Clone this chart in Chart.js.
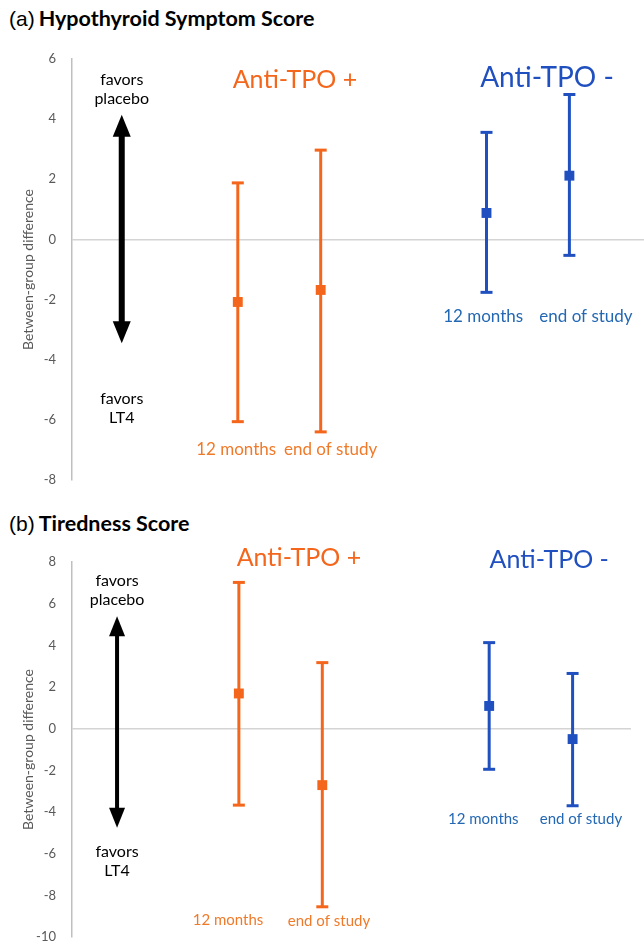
<!DOCTYPE html>
<html>
<head>
<meta charset="utf-8">
<script src="https://cdn.jsdelivr.net/npm/chart.js@4.4.0/dist/chart.umd.min.js"></script>
<style>
  body { margin: 0; background: #fff; width: 644px; height: 941px; overflow: hidden; position: relative; }
  .ttl { position: absolute; left: 9px; color: #000; white-space: nowrap; }
  .ttl .p { font-family: "Liberation Sans", Arial, sans-serif; font-size: 21px; }
  .ttl b { font-family: Lato, sans-serif; font-weight: bold; font-size: 21.5px; }
  #ca { position: absolute; left: 0; top: 0; }
  #cb { position: absolute; left: 0; top: 500px; }
</style>
</head>
<body>
<div class="ttl" style="top:5px"><span class="p">(a)</span> <b>Hypothyroid Symptom Score</b></div>
<div class="ttl" style="top:510px"><span class="p">(b)</span> <b>Tiredness Score</b></div>
<canvas id="ca" width="644" height="500"></canvas>
<canvas id="cb" width="644" height="441"></canvas>
<script>
// positions of the four estimates on the x axis
const catX = [2, 3, 5, 6];
const catNames = ['12 months', 'end of study', '12 months', 'end of study'];
const groupNames = ['Anti-TPO +', 'Anti-TPO -'];

// (a) hypothyroid symptom score
const hssMean = [-2.08, -1.68, 0.88, 2.12];
const hssLow = [-6.06, -6.40, -1.76, -0.53];
const hssHigh = [1.88, 2.97, 3.56, 4.82];
const hssTicks = [-8, -6, -4, -2, 0, 2, 4, 6];

// (b) tiredness score
const tirMean = [1.69, -2.71, 1.09, -0.50];
const tirLow = [-3.67, -8.55, -1.95, -3.70];
const tirHigh = [7.02, 3.17, 4.13, 2.65];
const tirTicks = [-10, -8, -6, -4, -2, 0, 2, 4, 6, 8];

const ORANGE = '#f4661b';
const BLUE = '#2050c0';
const ORANGE_TXT = '#f07a2a';
const BLUE_TXT = '#2468b4';
const seriesColors = [ORANGE, ORANGE, BLUE, BLUE];

const buildSets = (low, high, mean) => {
  let sets = [];
  sets.push({
    type: 'scatter',
    order: 0,
    data: catX.map((x, i) => ({x: x, y: mean[i]})),
    pointStyle: 'rect',
    pointRadius: 7,
    pointHoverRadius: 7,
    backgroundColor: seriesColors,
    borderWidth: 0
  });
  catX.forEach((x, i) => {
    sets.push({
      type: 'line',
      order: 1,
      data: [{x: x, y: low[i]}, {x: x, y: high[i]}],
      borderColor: seriesColors[i],
      borderWidth: 3,
      pointStyle: 'line',
      pointRadius: 6,
      pointHoverRadius: 6,
      pointBorderWidth: 3,
      pointBorderColor: seriesColors[i]
    });
  });
  return sets;
};

const drawArrow = (ctx, x, top, bottom, shaft, hw, hl) => {
  ctx.fillStyle = '#000';
  ctx.fillRect(x - shaft / 2, top + hl - 1, shaft, bottom - top - 2 * hl + 2);
  ctx.beginPath();
  ctx.moveTo(x, top);
  ctx.lineTo(x + hw, top + hl);
  ctx.lineTo(x - hw, top + hl);
  ctx.closePath();
  ctx.fill();
  ctx.beginPath();
  ctx.moveTo(x, bottom);
  ctx.lineTo(x + hw, bottom - hl);
  ctx.lineTo(x - hw, bottom - hl);
  ctx.closePath();
  ctx.fill();
};

// text labels and the favours arrow
const notes = {
  id: 'notes',
  afterDatasetsDraw(chart, args, o) {
    const ctx = chart.ctx;
    const xs = chart.scales.x, ys = chart.scales.y;
    ctx.save();
    ctx.textAlign = 'center';
    ctx.textBaseline = 'middle';

    groupNames.forEach((g, i) => {
      ctx.font = o.groupSize[i] + 'px Lato';
      ctx.fillStyle = i === 0 ? ORANGE : BLUE;
      ctx.fillText(g, xs.getPixelForValue(o.groupX[i]), ys.getPixelForValue(o.groupY[i]));
    });

    ctx.font = o.labelSize + 'px Lato';
    catNames.forEach((c, i) => {
      ctx.fillStyle = i < 2 ? ORANGE_TXT : BLUE_TXT;
      ctx.fillText(c, xs.getPixelForValue(o.labelX[i]), ys.getPixelForValue(o.labelY[i]));
    });

    const ax = xs.getPixelForValue(o.arrowX);
    const top = ys.getPixelForValue(o.arrow[0]);
    const bottom = ys.getPixelForValue(o.arrow[1]);
    drawArrow(ctx, ax, top, bottom, o.shaft, o.head[0], o.head[1]);

    ctx.fillStyle = '#000';
    ctx.font = '16px Lato';
    ctx.fillText('favors', ax, top - 35);
    ctx.fillText('placebo', ax, top - 16);
    ctx.fillText('favors', ax, bottom + o.below);
    ctx.fillText('LT4', ax, bottom + o.below + 19);
    ctx.restore();
  }
};

const makeChart = (id, sets, yMin, yMax, ticks, xMax, pad, note) => {
  return new Chart(document.getElementById(id), {
    data: {datasets: sets},
    plugins: [notes],
    options: {
      responsive: false,
      animation: false,
      devicePixelRatio: 1,
      events: [],
      layout: {padding: pad, autoPadding: false},
      plugins: {legend: {display: false}, tooltip: {enabled: false}, notes: note},
      scales: {
        x: {type: 'linear', min: 0, max: xMax, display: false},
        y: {
          type: 'linear',
          min: yMin,
          max: yMax,
          afterBuildTicks: (s) => { s.ticks = ticks.map(v => ({value: v})); },
          afterFit: (s) => { s.width = 72; s.paddingTop = 0; s.paddingBottom = 0; },
          ticks: {color: '#595959', font: {family: 'Lato', size: 13}, padding: 16},
          grid: {
            drawTicks: false,
            lineWidth: 1.5,
            color: (c) => (c.tick && c.tick.value === 0 ? '#d4d4d4' : 'rgba(0,0,0,0)')
          },
          border: {display: true, color: '#bfbfbf', width: 1.5},
          title: {
            display: true,
            text: 'Between-group difference',
            color: '#595959',
            font: {family: 'Lato', size: 14},
            padding: {top: 20, bottom: 0}
          }
        }
      }
    }
  });
};

makeChart('ca', buildSets(hssLow, hssHigh, hssMean), -8, 6, hssTicks, 6.9,
  {top: 59, bottom: 20, left: 0, right: 0},
  {groupX: [2.69, 5.73], groupY: [5.3, 5.37], groupSize: [25, 28], labelSize: 17,
   labelX: [1.98, 3.12, 4.96, 6.2], labelY: [-7.0, -7.0, -2.57, -2.57],
   arrowX: 0.6, arrow: [4.15, -3.45], shaft: 6, head: [9, 22], below: 56});

makeChart('cb', buildSets(tirLow, tirHigh, tirMean), -10, 8, tirTicks, 6.7,
  {top: 62, bottom: 4, left: 0, right: 13},
  {groupX: [2.72, 5.72], groupY: [8.2, 8.1], groupSize: [25, 25], labelSize: 15,
   labelX: [1.87, 3.08, 4.93, 6.1], labelY: [-9.17, -9.26, -4.32, -4.32],
   arrowX: 0.54, arrow: [5.4, -4.75], shaft: 4, head: [8, 20], below: 24});
</script>
</body>
</html>
